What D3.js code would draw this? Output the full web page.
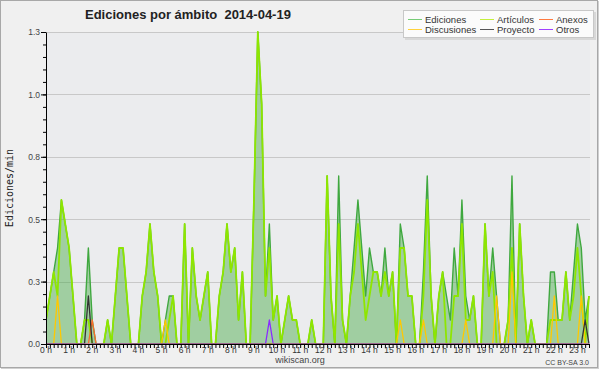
<!DOCTYPE html>
<html>
<head>
<meta charset="utf-8">
<script src="https://cdn.jsdelivr.net/npm/d3@7"></script>
<style>
body{margin:0;background:#fff;}
svg{display:block;}
</style>
</head>
<body>
<svg id="chart" width="600" height="370"></svg>
<script>
// edits per minute, one value every 10 minutes (0:00 -> 23:30)
var ediciones = [
  0.1,0.2,0.3,0.4,0.6,0.5,0.4,0.2,0,0,
  0.1,0.4,0.1,0,0,0,0.1,0,0.2,0.4,
  0.4,0.2,0,0,0,0.2,0.3,0.5,0.3,0.2,
  0,0.1,0.2,0.2,0,0,0.5,0,0.4,0.2,
  0.1,0.2,0.3,0,0,0.2,0.3,0.5,0.3,0.4,
  0.1,0.3,0,0,0.6,1.3,1.0,0.2,0.5,0.1,
  0.2,0,0.1,0.2,0.1,0.1,0,0,0,0.1,
  0,0,0,0.7,0.2,0,0.7,0.1,0,0.2,
  0.4,0.6,0.4,0.2,0.4,0.3,0.3,0.2,0.4,0.2,
  0.3,0,0.5,0.4,0.2,0.2,0,0,0.3,0.7,
  0.2,0,0.2,0.3,0.2,0.1,0.4,0.2,0.6,0.2,
  0.1,0.2,0,0,0.5,0.2,0.4,0.2,0,0,
  0.1,0.7,0,0.5,0.2,0,0.1,0,0,0,
  0,0.3,0.3,0.1,0.1,0.3,0.1,0.3,0.5,0.4,
  0.1,0.2
];
var articulos = [
  0.1,0.2,0.3,0.2,0.6,0.5,0.4,0.2,0,0,
  0.1,0.1,0,0,0,0,0.1,0,0.2,0.4,
  0.4,0.2,0,0,0,0.2,0.3,0.5,0.3,0.2,
  0,0,0.1,0.2,0,0,0.5,0,0.4,0.2,
  0.1,0.2,0.3,0,0,0.2,0.3,0.5,0.3,0.4,
  0.1,0.3,0,0,0.6,1.3,1.0,0.2,0.4,0.1,
  0.2,0,0.1,0.2,0.1,0.1,0,0,0,0.1,
  0,0,0,0.7,0.2,0,0.5,0.1,0,0.2,
  0.3,0.5,0.3,0.1,0.2,0.3,0.3,0.2,0.3,0.2,
  0.3,0,0.4,0.4,0.2,0.2,0,0,0.2,0.6,
  0.2,0,0.2,0.3,0,0,0.2,0.2,0.5,0.1,
  0.1,0.2,0,0,0.5,0.2,0.3,0,0,0,
  0.1,0.4,0,0.5,0.2,0,0.1,0,0,0,
  0,0.1,0.1,0.1,0.1,0.3,0.1,0.2,0.4,0.2,
  0,0.2
];
var anexos = [
  0,0,0,0,0,0,0,0,0,0, 0,0,0.1,0,0,0,0,0,0,0,
  0,0,0,0,0,0,0,0,0,0, 0,0,0,0,0,0,0,0,0,0,
  0,0,0,0,0,0,0,0,0,0, 0,0,0,0,0,0,0,0,0,0,
  0,0,0,0,0,0,0,0,0,0, 0,0,0,0,0,0,0,0,0,0,
  0,0,0,0,0,0,0,0,0,0, 0,0,0,0,0,0,0,0,0,0,
  0,0,0,0,0,0,0,0,0,0, 0,0,0,0,0,0,0,0,0,0,
  0,0,0,0,0,0,0,0,0,0, 0,0,0,0,0,0,0,0,0,0,
  0,0
];
var discusiones = [
  0,0,0,0.2,0,0,0,0,0,0, 0,0,0,0,0,0,0,0,0,0,
  0,0,0,0,0,0,0,0,0,0, 0,0.1,0,0,0,0,0,0,0,0,
  0,0,0,0,0,0,0,0,0,0, 0,0,0,0,0,0,0,0,0,0,
  0,0,0,0,0,0,0,0,0,0, 0,0,0,0,0,0,0,0,0,0,
  0,0,0,0,0,0,0,0,0,0, 0,0,0.1,0,0,0,0,0,0.1,0,
  0,0,0,0,0,0,0,0,0,0.1, 0,0,0,0,0,0,0,0.2,0,0,
  0,0.3,0,0,0,0,0,0,0,0, 0,0,0.2,0,0,0,0,0,0,0.2,
  0,0
];
var proyecto = [
  0,0,0,0,0,0,0,0,0,0, 0,0.2,0,0,0,0,0,0,0,0,
  0,0,0,0,0,0,0,0,0,0, 0,0,0,0,0,0,0,0,0,0,
  0,0,0,0,0,0,0,0,0,0, 0,0,0,0,0,0,0,0,0,0,
  0,0,0,0,0,0,0,0,0,0, 0,0,0,0,0,0,0,0,0,0,
  0,0,0,0,0,0,0,0,0,0, 0,0,0,0,0,0,0,0,0,0,
  0,0,0,0,0,0,0,0,0,0, 0,0,0,0,0,0,0,0,0,0,
  0,0,0,0,0,0,0,0,0,0, 0,0,0,0,0,0,0,0,0,0,
  0.1,0
];
var otros = [
  0,0,0,0,0,0,0,0,0,0, 0,0,0,0,0,0,0,0,0,0,
  0,0,0,0,0,0,0,0,0,0, 0,0,0,0,0,0,0,0,0,0,
  0,0,0,0,0,0,0,0,0,0, 0,0,0,0,0,0,0,0,0.1,0,
  0,0,0,0,0,0,0,0,0,0, 0,0,0,0,0,0,0,0,0,0,
  0,0,0,0,0,0,0,0,0,0, 0,0,0,0,0,0,0,0,0,0,
  0,0,0,0,0,0,0,0,0,0, 0,0,0,0,0,0,0,0,0,0,
  0,0,0,0,0,0,0,0,0,0, 0,0,0,0,0,0,0,0,0,0,
  0,0
];
var hourLabels = ["0 h","1 h","2 h","3 h","4 h","5 h","6 h","7 h","8 h","9 h","10 h","11 h",
  "12 h","13 h","14 h","15 h","16 h","17 h","18 h","19 h","20 h","21 h","22 h","23 h"];
var yTicks = [0, 0.26, 0.52, 0.78, 1.04, 1.3];
var legendNames = ["Ediciones","Artículos","Anexos","Discusiones","Proyecto","Otros"];

var colors = {
    ediciones: "#3fa83f",
    articulos: "#8ee600",
    anexos: "#ff6a2a",
    discusiones: "#ffc800",
    proyecto: "#333333",
    otros: "#8a2bff"
};
var legendColors = ["#77cc77","#c4ef3c","#ff7a40","#ffd23c","#555555","#a040ff"];

var svg = d3.select("#chart");
var L = 46, R = 589, T = 32, B = 344;

var x = d3.scaleLinear().domain([0, ediciones.length-1]).range([L, R]);
var y = d3.scaleLinear().domain([0, 1.3]).range([B, T]);

// frame
svg.append("rect").attr("x",1).attr("y",1).attr("width",598).attr("height",368).attr("fill","#d0d0d0");
svg.append("rect").attr("x",0.5).attr("y",0.5).attr("width",597).attr("height",367)
    .attr("fill","#f0f0f0").attr("stroke","#a8a8a8");

// plot background
svg.append("rect").attr("x",L).attr("y",T).attr("width",590-L).attr("height",B-T).attr("fill","#ebecee");

// grid
svg.append("g").selectAll("line").data(yTicks.slice(1)).join("line")
    .attr("x1",L).attr("x2",590)
    .attr("y1",function(d){return Math.round(y(d))+0.5;})
    .attr("y2",function(d){return Math.round(y(d))+0.5;})
    .attr("stroke","#c8c8c8");

svg.append("clipPath").attr("id","plotClip").append("rect")
    .attr("x",L).attr("y",T-2).attr("width",590-L).attr("height",B-T+1.5);

var plot = svg.append("g").attr("clip-path","url(#plotClip)");

var area = d3.area().x(function(d,i){return x(i);}).y0(y(0)).y1(function(d){return y(d);});
var line = d3.line().x(function(d,i){return x(i);}).y(function(d){return y(d);});

plot.append("path").attr("d",area(ediciones)).attr("fill","#3fa83f").attr("opacity",0.44);

var series = [
    [ediciones, colors.ediciones, 1.4],
    [articulos, colors.articulos, 1.8],
    [anexos, colors.anexos, 1.3],
    [discusiones, colors.discusiones, 1.3],
    [proyecto, colors.proyecto, 1.3],
    [otros, colors.otros, 1.3]
];
series.forEach(function(s){
    plot.append("path").attr("d",line(s[0])).attr("fill","none")
        .attr("stroke",s[1]).attr("stroke-width",s[2]).attr("stroke-linejoin","round");
});

// y axis
var yMinor = d3.range(0, 26).map(function(i){return i*0.052;});
svg.append("g").attr("transform","translate("+L+",0)")
    .call(d3.axisLeft(y).tickValues(yMinor).tickSize(3).tickFormat(""))
    .call(function(g){g.select(".domain").remove();});
var yAxis = svg.append("g").attr("transform","translate("+L+",0)")
    .call(d3.axisLeft(y).tickValues(yTicks).tickSize(5).tickSizeOuter(0).tickFormat(d3.format(".1f")));
yAxis.selectAll("text").attr("font-family","Liberation Sans").attr("font-size","8.5px")
    .attr("fill","#444").attr("x",-6).attr("dy","0.35em");

// x axis
var xAxis = svg.append("g").attr("transform","translate(0,"+B+")")
    .call(d3.axisBottom(x).tickValues(d3.range(0, ediciones.length)).tickSize(4).tickSizeOuter(0).tickFormat(""));
xAxis.select(".domain").attr("d","M"+(L+0.5)+",0.5H590");
svg.append("g").selectAll("text").data(hourLabels).join("text")
    .attr("x",function(d,i){return x(i*6);}).attr("y",353)
    .attr("text-anchor","middle").attr("font-family","Liberation Sans").attr("font-size","8.5px")
    .attr("fill","#333").text(function(d){return d;});

svg.selectAll(".domain, .tick line").attr("stroke","#000");

// titles
svg.append("text").attr("x",85).attr("y",19).attr("font-family","Liberation Sans")
    .attr("font-weight","bold").attr("font-size","13px").attr("fill","#222")
    .style("white-space","pre").text("Ediciones por ámbito  2014-04-19");
svg.append("text").attr("transform","translate(13,188) rotate(-90)").attr("text-anchor","middle")
    .attr("font-family","DejaVu Sans Mono").attr("font-size","10px").attr("fill","#222")
    .text("Ediciones/min");
svg.append("text").attr("x",300).attr("y",363).attr("text-anchor","middle")
    .attr("font-family","Liberation Sans").attr("font-size","9px").attr("fill","#444").text("wikiscan.org");
svg.append("text").attr("x",589).attr("y",365).attr("text-anchor","end")
    .attr("font-family","Liberation Sans").attr("font-size","7px").attr("fill","#444").text("CC BY-SA 3.0");

// legend
var lg = svg.append("g");
lg.append("rect").attr("x",405).attr("y",12).attr("width",191).attr("height",28).attr("fill","#d8d8d8");
lg.append("rect").attr("x",403.5).attr("y",10.5).attr("width",190).attr("height",27)
    .attr("fill","#fbfbfb").attr("stroke","#c8c8c8");
var colX = [408, 480, 539];
var rowY = [19, 29];
legendNames.forEach(function(name,i){
    var cx = colX[i%3], cy = rowY[Math.floor(i/3)];
    lg.append("line").attr("x1",cx).attr("x2",cx+14).attr("y1",cy+0.5).attr("y2",cy+0.5)
        .attr("stroke",legendColors[i]).attr("stroke-width",1);
    lg.append("text").attr("x",cx+17).attr("y",cy+3.5).attr("font-family","Liberation Sans")
        .attr("font-size","9.5px").attr("fill","#333").text(name);
});
</script>
</body>
</html>
